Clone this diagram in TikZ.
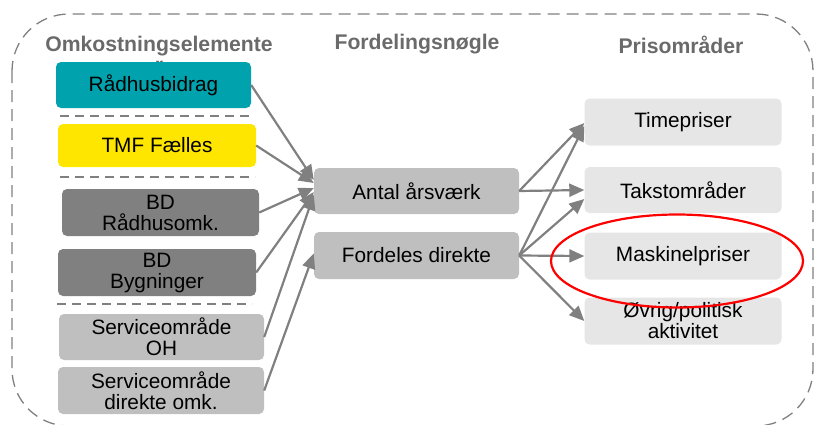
\documentclass[tikz,border=0pt]{standalone}
\usepackage{fontspec}
\setmainfont{Liberation Sans}
\usetikzlibrary{arrows.meta,calc}
\definecolor{tealbox}{HTML}{00A3AD}
\definecolor{yelbox}{HTML}{FFE600}
\definecolor{darkbox}{HTML}{808080}
\definecolor{midbox}{HTML}{BFBFBF}
\definecolor{lightbox}{HTML}{E6E6E6}
\definecolor{hdrgray}{HTML}{6A6A6A}
\definecolor{arrgray}{HTML}{808080}
\definecolor{sepgray}{HTML}{808080}
\begin{document}
\begin{tikzpicture}[x=1pt,y=-1pt,
  box/.style={rounded corners=5pt, align=center, inner sep=0pt,
    font=\fontsize{20.8}{21}\selectfont, text=black},
  leftbox/.style={box, minimum width=197pt, minimum height=46pt},
  midnode/.style={box, fill=midbox, minimum width=205pt, minimum height=46pt},
  rightbox/.style={box, fill=lightbox, minimum width=197pt, minimum height=46pt},
  hdrtext/.style={font=\bfseries\fontsize{21.2}{21}\selectfont, text=hdrgray, align=center},
  conn/.style={draw=arrgray, line width=2.2pt, -{Triangle[length=15pt,width=13pt]}},
  sepline/.style={draw=sepgray, line width=1.5pt, dash pattern=on 9pt off 6pt},
]
\useasboundingbox (0,0) rectangle (814,424);
% outer dashed frame
\draw[draw=sepgray, line width=1.3pt, dash pattern=on 12pt off 7pt, rounded corners=57pt]
  (12,14) rectangle (813,426);

% headers
\node[hdrtext, anchor=north] (h1) at (159,33) {Omkostningselemente\\r};
\node[hdrtext] (h2) at (417,44) {Fordelingsnøgle};
\node[hdrtext] (h3) at (681,45) {Prisområder};

% left column
\node[leftbox, fill=tealbox, minimum width=195pt] (rb) at (153.5,85) {Rådhusbidrag};
\node[leftbox, fill=yelbox, minimum width=198pt, minimum height=43pt] (tmf) at (157,145.5) {TMF Fælles};
\node[leftbox, fill=darkbox, minimum height=47pt] (bdr) at (160.5,212.5) {BD\\Rådhusomk.};
\node[leftbox, fill=darkbox, minimum width=198pt, minimum height=47pt] (bdb) at (157,272.5) {BD\\Bygninger};
\node[leftbox, fill=midbox, minimum width=205pt] (soh) at (161.5,337) {Serviceområde\\OH};
\node[leftbox, fill=midbox, minimum width=206pt, minimum height=47pt] (sdo) at (161,390.5) {Serviceområde\\direkte omk.};

% separators
\coordinate (s1a) at (60,116); \coordinate (s1b) at (253,116);
\coordinate (s2a) at (60,177); \coordinate (s2b) at (255,177);
\coordinate (s3a) at (57,304); \coordinate (s3b) at (252,304);
\draw[sepline] (s1a) -- (s1b);
\draw[sepline] (s2a) -- (s2b);
\draw[sepline] (s3a) -- (s3b);

% middle column
\node[midnode] (aa) at (416.5,191) {Antal årsværk};
\node[midnode, minimum height=47pt] (fd) at (416.5,255.5) {Fordeles direkte};

% right column
\node[rightbox, minimum height=47pt] (tp) at (683,122) {Timepriser};
\node[rightbox] (to) at (683,190) {Takstområder};
\node[rightbox, minimum height=47pt] (mp) at (683,256) {Maskinelpriser};
\node[rightbox, minimum height=47pt] (ov) at (683,321) {Øvrig/politisk\\aktivitet};

% connectors left -> middle
\draw[conn] (rb.east) -- ($(aa.west)+(0,-11)$);
\draw[conn] (tmf.east) -- ($(aa.west)+(0,-8)$);
\draw[conn] (bdr.east) -- ($(aa.west)+(0,-3)$);
\draw[conn] (bdb.east) -- ($(aa.west)+(0,1)$);
\draw[conn] (soh.east) -- ($(aa.west)+(0,4)$);
\draw[conn] (sdo.east) -- ($(fd.west)+(0,-2)$);

% connectors middle -> right
\draw[conn] (aa.east) -- ($(tp.west)+(0,1)$);
\draw[conn] (aa.east) -- (to.west);
\draw[conn] (fd.east) -- ($(tp.west)+(0,4)$);
\draw[conn] (fd.east) -- ($(to.west)+(0,9)$);
\draw[conn] (fd.east) -- (mp.west);
\draw[conn] (fd.east) -- (ov.west);

% red highlight ellipse
\draw[red, line width=2.2pt] (677,261) ellipse [x radius=126, y radius=46.5];
\end{tikzpicture}
\end{document}
